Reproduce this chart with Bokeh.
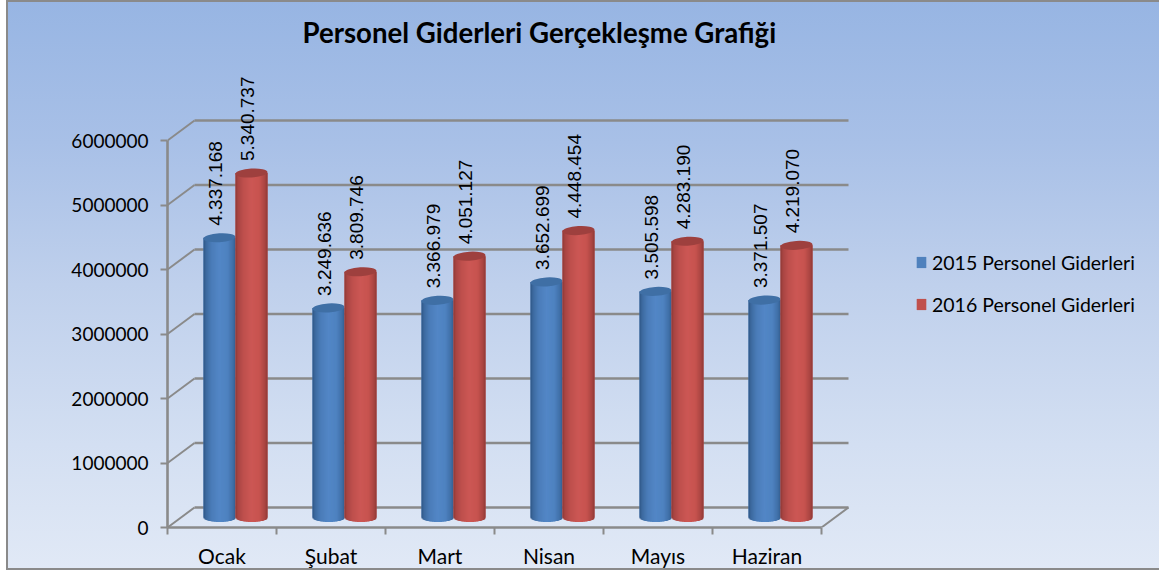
import math
from bokeh.plotting import figure
from bokeh.models import (ColumnDataSource, FixedTicker, Legend, LegendItem, LinearAxis, Range1d, Title)
from bokeh.core.properties import value
from bokeh.embed import file_html
from bokeh.resources import INLINE

months = ["Ocak", "Şubat", "Mart", "Nisan", "Mayıs", "Haziran"]
values_2015 = [4337168, 3249636, 3366979, 3652699, 3505598, 3371507]
values_2016 = [5340737, 3809746, 4051127, 4448454, 4283190, 4219070]
series_names = ["2015 Personel Giderleri", "2016 Personel Giderleri"]
y_ticks = [0, 1000000, 2000000, 3000000, 4000000, 5000000, 6000000]
title_text = "Personel Giderleri Gerçekleşme Grafiği"

GRAY = "#8A8A8A"
BLUE_STOPS = [(-1, "#2E5583"), (-.85, "#3C699E"), (-.5, "#4A7CB8"), (0, "#5286C6"), (.5, "#4E82C0"), (.85, "#3F6EA6"), (1, "#335E8E")]
RED_STOPS = [(-1, "#8E3835"), (-.85, "#A84442"), (-.5, "#BE504D"), (0, "#CC5754"), (.5, "#C7534F"), (.85, "#A84441"), (1, "#8E3936")]

# pixel geometry
W, H = 1153, 570
L, R, T, B = 161, 0, 50, 43
CAT_PX, M_PX = 109.0, 64.5
DX, DY = 27 / CAT_PX, 20 / M_PX * 1e6          # depth of the 3D box in data units
BAR_W = 32 / CAT_PX
ELL_PX = 4.5 / M_PX * 1e6
SEAM = 0.6 / CAT_PX

frame_w, frame_h = W - L - R, H - T - B
p = figure(width=W, height=H, output_backend="svg", toolbar_location=None,
           x_range=Range1d(0, frame_w / CAT_PX), y_range=Range1d(0, frame_h / M_PX * 1e6),
           x_axis_type=None, y_axis_type=None,
           min_border_left=L, min_border_right=R, min_border_top=T, min_border_bottom=B,
           background_fill_color=None, border_fill_color=None, outline_line_color=None,
           margin=(0, 0, 0, 6))
p.grid.visible = False
p.styles = {
    "background": "linear-gradient(180deg, #97B5E3 0%, #A8C0E7 25%, #BFD0EC 50%, #D3DFF2 78%, #E1E9F6 100%)",
    "box-shadow": f"inset 2px 2px 0 {GRAY}, inset 0 -2px 0 {GRAY}",
}

# back wall and side wall
n = len(months)
ys = y_ticks
p.segment(x0=[DX] * len(ys), x1=[n + DX] * len(ys), y0=[v + DY for v in ys], y1=[v + DY for v in ys],
          line_color=GRAY, line_width=2.6)
p.segment(x0=[0] * len(ys), x1=[DX] * len(ys), y0=ys, y1=[v + DY for v in ys], line_color=GRAY, line_width=2)
p.segment(x0=[n], x1=[n + DX], y0=[0], y1=[DY], line_color=GRAY, line_width=2)

# axes
xa = LinearAxis(ticker=FixedTicker(ticks=[i + .5 for i in range(n)], minor_ticks=list(range(n + 1))),
                major_label_overrides={i + .5: m for i, m in enumerate(months)}, bounds=(0, n))
xa.major_tick_line_color = None
xa.minor_tick_out, xa.minor_tick_in = 7, 0
xa.minor_tick_line_color, xa.minor_tick_line_width = GRAY, 2
xa.axis_line_color, xa.axis_line_width = GRAY, 2.6
xa.major_label_text_font = "Lato"
xa.major_label_text_font_size = "21px"
xa.major_label_text_color = "black"
xa.major_label_standoff = 8
p.add_layout(xa, "below")

ya = LinearAxis(ticker=FixedTicker(ticks=y_ticks), bounds=(0, max(y_ticks)),
                major_label_overrides={v: str(v) for v in y_ticks})
ya.minor_tick_line_color = None
ya.major_tick_out, ya.major_tick_in = 7, 0
ya.major_tick_line_color, ya.major_tick_line_width = GRAY, 2
ya.axis_line_color, ya.axis_line_width = GRAY, 2.6
ya.major_label_text_font = "Lato"
ya.major_label_text_font_size = "19px"
ya.major_label_text_color = "black"
ya.major_label_standoff = 12
p.add_layout(ya, "left")


def mix(stops, u):
    for (u0, c0), (u1, c1) in zip(stops, stops[1:]):
        if u <= u1:
            t = (u - u0) / (u1 - u0)
            rgb = [round(int(c0[k:k + 2], 16) * (1 - t) + int(c1[k:k + 2], 16) * t) for k in (1, 3, 5)]
            return "#%02X%02X%02X" % tuple(rgb)
    return stops[-1][1]


def cylinders(vals, side, stops, base, cap):
    centers = [i + .5 + DX / 2 + side * BAR_W / 2 for i in range(n)]
    base_y = DY / 2
    # flat bar underneath, also the legend's key
    flat = p.vbar(x=centers, bottom=base_y, top=[v + base_y for v in vals], width=BAR_W, fill_color=base, line_color=None)
    strips = 32
    lft, rgt, bot, top, col = [], [], [], [], []
    for c, v in zip(centers, vals):
        for s in range(strips):
            u0, u1 = -1 + 2 * s / strips, -1 + 2 * (s + 1) / strips
            um = (u0 + u1) / 2
            lft.append(c + u0 * BAR_W / 2)
            rgt.append(c + u1 * BAR_W / 2 + (SEAM if s < strips - 1 else 0))
            bot.append(base_y - ELL_PX * math.sqrt(1 - um * um))
            top.append(v + base_y)
            col.append(mix(stops, um))
    p.quad(left=lft, right=rgt, bottom=bot, top=top, fill_color=col, line_color=None)
    # top cap
    p.ellipse(x=centers, y=[v + base_y for v in vals], width=BAR_W, height=2 * ELL_PX, angle=[0.06] * n,
              angle_units="rad", fill_color=cap, line_color=None, width_units="data", height_units="data")
    labels = [f"{v:,}".replace(",", ".") for v in vals]
    src = ColumnDataSource(dict(x=centers, y=[v + base_y for v in vals], t=labels))
    p.text(x="x", y="y", text="t", source=src, angle=math.pi / 2, x_offset=-4, y_offset=-12,
           text_align="left", text_baseline="middle", text_color="black",
           text_font=value("Liberation Sans"), text_font_size="19px")
    return flat


r15 = cylinders(values_2015, -1, BLUE_STOPS, "#4F81BD", "#3F6FA5")
r16 = cylinders(values_2016, 1, RED_STOPS, "#C0504D", "#9E403E")

legend = Legend(items=[LegendItem(label=series_names[0], renderers=[r15]), LegendItem(label=series_names[1], renderers=[r16])],
                location=(748, 211), orientation="vertical", background_fill_alpha=0, border_line_color=None,
                glyph_width=12, glyph_height=14, label_standoff=5, spacing=18, padding=0, margin=0,
                label_text_font="Lato", label_text_font_size="19.5px", label_text_color="black", label_height=24)
p.add_layout(legend, "center")

ttl = Title(text=title_text, align="left", offset=135, standoff=4, vertical_align="bottom", text_font="Lato", text_font_style="bold",
            text_font_size="27.6px", text_color="black")
p.add_layout(ttl, "above")

open("out.html", "w").write(file_html(p, INLINE))
